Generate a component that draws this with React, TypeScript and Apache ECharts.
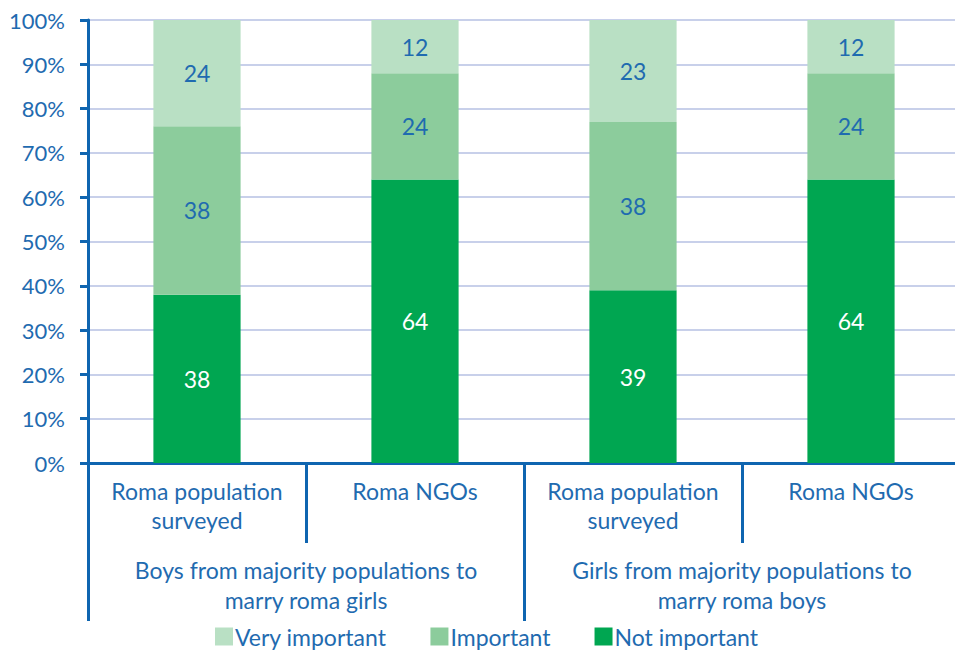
import React, { useEffect, useRef } from "react";
import * as echarts from "echarts";

const subCategories = ["Roma population\nsurveyed", "Roma NGOs", "Roma population\nsurveyed", "Roma NGOs"];
const groupCategories = [
  "Boys from majority populations to\nmarry roma girls",
  "Girls from majority populations to\nmarry roma boys",
];
const notImportant = [38, 64, 39, 64];
const important = [38, 24, 38, 24];
const veryImportant = [24, 12, 23, 12];
const legendNames = ["Very important", "Important", "Not important"];

const BLUE = "#1F6BB0";
const AXIS = "#0F65B0";
const FONT = "Lato, 'Open Sans', sans-serif";

export default function App() {
  const ref = useRef<HTMLDivElement>(null);
  useEffect(() => {
    if (!ref.current) return;
    const chart = echarts.init(ref.current, null, { renderer: "svg" });
    const mk = (name: string, data: number[], color: string, labelColor: string) => ({
      name,
      type: "bar",
      stack: "total",
      data,
      barWidth: "40%",
      xAxisIndex: 0,
      itemStyle: { color },
      label: {
        show: true,
        position: "inside",
        color: labelColor,
        fontSize: 23,
        fontFamily: FONT,
      },
    });
    chart.setOption({
      animation: false,
      textStyle: { fontFamily: FONT },
      grid: { left: 88, right: 0, top: 20, bottom: 187, containLabel: false },
      legend: {
        data: legendNames,
        bottom: -3,
        left: 210,
        itemWidth: 18,
        itemHeight: 18,
        itemGap: 44,
        icon: "rect",
        textStyle: { fontSize: 23, color: BLUE, fontFamily: FONT, padding: [0, 0, 0, -3] },
      },
      xAxis: [
        {
          type: "category",
          data: subCategories,
          position: "bottom",
          axisLine: { show: true, lineStyle: { color: AXIS, width: 3 } },
          axisTick: { show: true, interval: 0, length: 80, lineStyle: { color: AXIS, width: 3 } },
          axisLabel: { interval: 0, margin: 13, fontSize: 23, lineHeight: 29, color: BLUE, fontFamily: FONT },
          splitLine: { show: false },
        },
        {
          type: "category",
          data: groupCategories,
          position: "bottom",
          axisLine: { show: false },
          axisTick: { show: true, interval: 0, length: 158, lineStyle: { color: AXIS, width: 3 } },
          axisLabel: { interval: 0, margin: 92, fontSize: 23, lineHeight: 30, color: BLUE, fontFamily: FONT },
          splitLine: { show: false },
        },
      ],
      yAxis: {
        type: "value",
        min: 0,
        max: 100,
        interval: 10,
        axisLine: { show: true, lineStyle: { color: AXIS, width: 3 } },
        axisTick: { show: true, length: 8, lineStyle: { color: AXIS, width: 3 } },
        axisLabel: { formatter: "{value}%", fontSize: 22, color: BLUE, margin: 23, fontFamily: FONT },
        splitLine: { show: true, lineStyle: { color: "#C8D0EA", width: 2 } },
      },
      series: [
        mk("Not important", notImportant, "#00A651", "#FFFFFF"),
        mk("Important", important, "#8CCC9C", BLUE),
        mk("Very important", veryImportant, "#B9E0C4", BLUE),
      ],
    });
    return () => chart.dispose();
  }, []);
  return (
    <div style={{ position: "absolute", left: 0, top: 0, width: 955, height: 650, overflow: "hidden" }}>
      <div ref={ref} style={{ position: "absolute", left: 0, top: 0, width: 960, height: 650 }} />
    </div>
  );
}
